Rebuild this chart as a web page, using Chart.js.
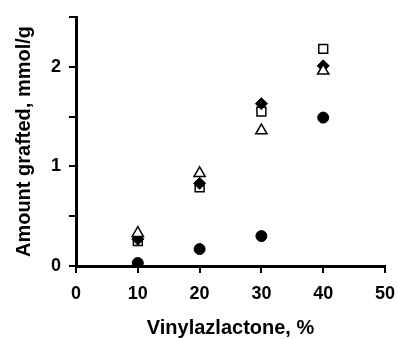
<!DOCTYPE html>
<html>
<head>
<meta charset="utf-8">
<script src="https://cdn.jsdelivr.net/npm/chart.js@4"></script>
<style>
  body { margin: 0; background: #fff; }
  #wrap { width: 398px; height: 339px; }
</style>
</head>
<body>
<div id="wrap"><canvas id="graftChart"></canvas></div>
<script>
// Vinylazlactone content (%) vs amount grafted (mmol/g)
const vinylPct = [10, 20, 30, 40];
const triangleVals = [0.33, 0.93, 1.36, 1.96];
const diamondVals = [0.27, 0.83, 1.63, 2.01];
const squareVals = [0.25, 0.79, 1.55, 2.18];
const circleVals = [0.03, 0.17, 0.30, 1.49];

const xTicks = [0, 10, 20, 30, 40, 50];
const yLabelled = [0, 1, 2];

const toPoints = vals => vinylPct.map((x, i) => ({ x: x, y: vals[i] }));
const tickFont = { family: 'Liberation Sans, Arial, sans-serif', weight: 'bold', size: 18, lineHeight: 1 };
const titleFont = { family: 'Liberation Sans, Arial, sans-serif', weight: 'bold', size: 20, lineHeight: 1.1 };

const ctx = document.getElementById('graftChart').getContext('2d');
new Chart(ctx, {
    type: 'scatter',
    data: {
        datasets: [
            {
                label: 'triangle',
                data: toPoints(triangleVals),
                pointStyle: 'triangle',
                pointRadius: 6.5,
                borderColor: '#000',
                backgroundColor: '#fff',
                borderWidth: 1.5
            },
            {
                label: 'diamond',
                data: toPoints(diamondVals),
                pointStyle: 'rectRot',
                pointRadius: 6,
                borderColor: '#000',
                backgroundColor: '#000',
                borderWidth: 1
            },
            {
                label: 'square',
                data: toPoints(squareVals),
                pointStyle: 'rect',
                pointRadius: 6.3,
                borderColor: '#000',
                backgroundColor: '#fff',
                borderWidth: 1.5
            },
            {
                label: 'circle',
                data: toPoints(circleVals),
                pointStyle: 'circle',
                pointRadius: 5.5,
                borderColor: '#000',
                backgroundColor: '#000',
                borderWidth: 1
            }
        ]
    },
    options: {
        responsive: true,
        maintainAspectRatio: false,
        animation: false,
        layout: { padding: { top: 13, right: 0, left: 13, bottom: 0 } },
        plugins: {
            legend: { display: false },
            tooltip: { enabled: false }
        },
        scales: {
            x: {
                type: 'linear',
                min: 0,
                max: 50,
                afterBuildTicks: axis => { axis.ticks = xTicks.map(v => ({ value: v })); },
                // tick padding otherwise widens the right margin too much
                afterFit: axis => { axis.paddingRight = 13; },
                border: { display: true, color: '#000', width: 3 },
                grid: { drawOnChartArea: false, drawTicks: true, tickLength: 7, color: '#000', lineWidth: 2 },
                ticks: { color: '#000', font: tickFont, padding: 12 },
                title: { display: true, text: 'Vinylazlactone, %', color: '#000', font: titleFont, padding: { top: 2, bottom: 0 } }
            },
            y: {
                type: 'linear',
                min: 0,
                max: 2.5,
                ticks: {
                    stepSize: 0.5,
                    color: '#000',
                    font: tickFont,
                    padding: 8,
                    callback: v => yLabelled.includes(v) ? v : ''
                },
                border: { display: true, color: '#000', width: 3 },
                grid: { drawOnChartArea: false, drawTicks: true, tickLength: 7, color: '#000', lineWidth: 2 },
                title: { display: true, text: 'Amount grafted, mmol/g', color: '#000', font: titleFont, padding: { top: 0, bottom: 8 } }
            }
        }
    }
});
</script>
</body>
</html>
